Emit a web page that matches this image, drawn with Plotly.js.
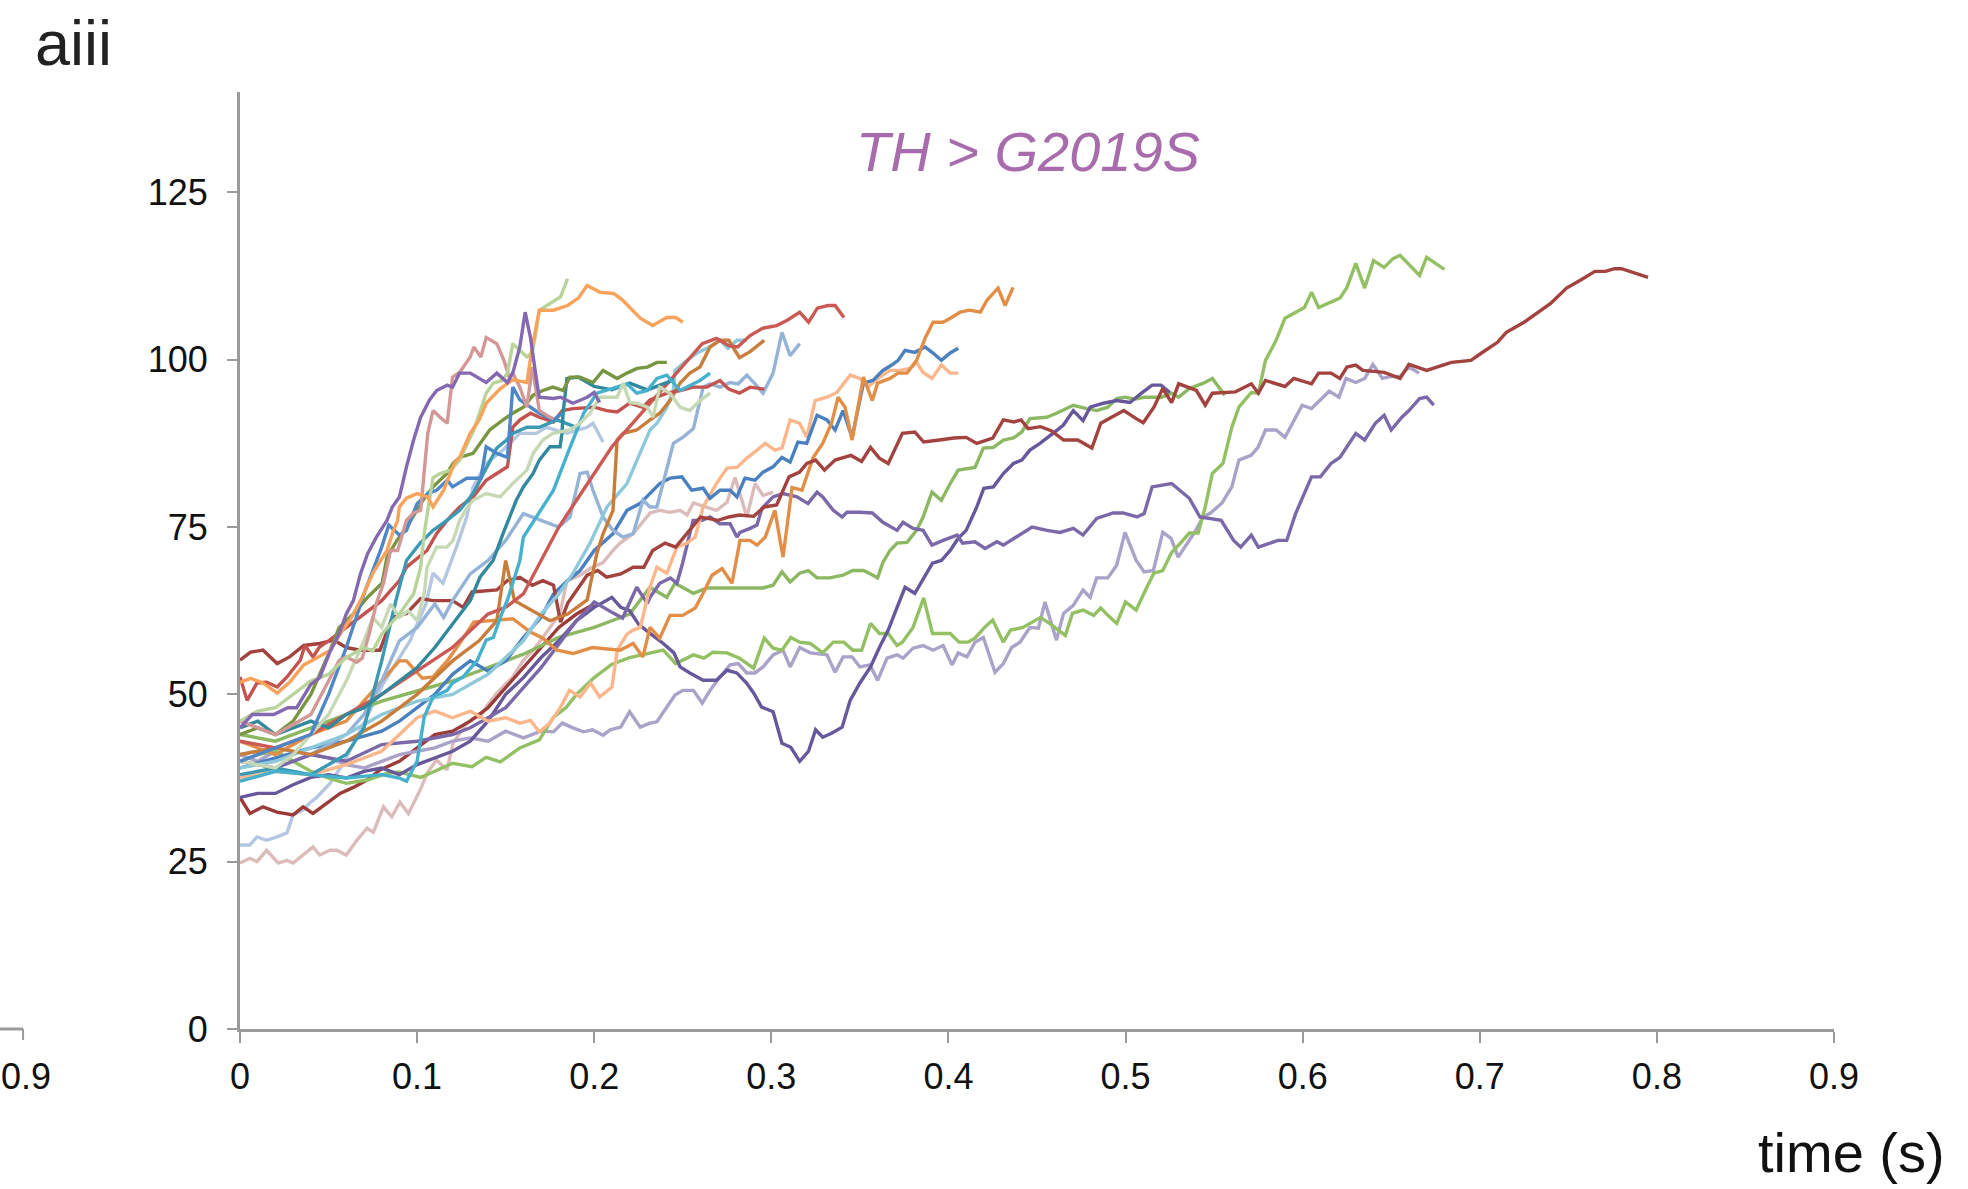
<!DOCTYPE html>
<html>
<head>
<meta charset="utf-8">
<script src="https://cdn.plot.ly/plotly-3.0.1.min.js"></script>
<style>
html,body{margin:0;padding:0;background:#ffffff;}
#chart{width:1968px;height:1189px;}
</style>
</head>
<body>
<div id="chart"></div>
<script>
// ---- data: [time (s), value] pairs ----
const darkRedLong = [[0,55.1],[0.006,56.3],[0.013,56.6],[0.021,54.6],[0.028,55.6],[0.036,57.3],[0.045,57.6],[0.053,58.1],[0.06,57],[0.068,56.6],[0.079,56.6],[0.086,61.5],[0.094,62.1],[0.102,64.3],[0.109,64],[0.12,64],[0.126,63],[0.131,65.3],[0.145,65.6],[0.151,67],[0.158,67.5],[0.165,66.3],[0.171,67],[0.177,66.3],[0.181,60.8],[0.185,63.6],[0.196,67.8],[0.202,68.5],[0.207,67.5],[0.215,68],[0.222,69],[0.228,69],[0.233,71.5],[0.24,72.6],[0.246,72],[0.252,74],[0.26,76.5],[0.27,76],[0.276,76.5],[0.282,76.8],[0.29,76.6],[0.296,78],[0.303,78.3],[0.31,82.5],[0.316,83.2],[0.32,84.5],[0.325,85],[0.33,83.5],[0.336,85],[0.345,85.7],[0.351,84.8],[0.356,86.9],[0.361,85.3],[0.366,84.5],[0.374,89],[0.381,89.2],[0.386,87.7],[0.395,88],[0.403,88.3],[0.41,88.4],[0.416,87.5],[0.425,88.3],[0.431,91],[0.437,90.7],[0.441,91],[0.445,89.7],[0.452,90],[0.458,89.4],[0.465,88],[0.473,88],[0.481,86.8],[0.486,90.5],[0.491,91.2],[0.499,92.4],[0.506,91.2],[0.51,90.6],[0.516,92.9],[0.521,95.7],[0.526,93.6],[0.53,96.4],[0.54,95.4],[0.545,93.2],[0.549,95],[0.562,95.2],[0.571,96.4],[0.575,95],[0.579,96.9],[0.59,96],[0.595,97.2],[0.605,96.4],[0.609,98],[0.616,98],[0.621,97.2],[0.625,98.9],[0.63,99.2],[0.634,98.4],[0.646,98.1],[0.655,97.2],[0.66,99.3],[0.67,98.4],[0.684,99.6],[0.695,99.9],[0.701,101],[0.71,102.6],[0.715,104.1],[0.725,105.6],[0.74,108.4],[0.749,110.7],[0.757,111.9],[0.765,113.2],[0.771,113.2],[0.776,113.6],[0.78,113.6],[0.795,112.3]];
const greenLong = [[0,40],[0.01,41],[0.02,41.5],[0.03,40],[0.04,38.5],[0.05,37.5],[0.06,36.7],[0.072,37.2],[0.083,38.2],[0.09,38.4],[0.102,37.6],[0.109,38.4],[0.12,39.7],[0.131,39.2],[0.139,40.6],[0.147,39.9],[0.158,42],[0.169,43.2],[0.177,46.6],[0.184,48],[0.19,50],[0.2,52.5],[0.21,54.5],[0.22,55.5],[0.2315,56.2],[0.239,56.6],[0.246,54.6],[0.25,55.1],[0.256,55.9],[0.262,55.4],[0.267,56.3],[0.275,56.2],[0.282,55.4],[0.29,53.9],[0.296,58.4],[0.301,56.9],[0.306,56.6],[0.311,58.5],[0.316,57.8],[0.322,57.6],[0.329,56.2],[0.335,57.8],[0.341,57.8],[0.346,56.6],[0.351,56.6],[0.356,60.6],[0.361,59.1],[0.366,59.1],[0.371,57.3],[0.374,57.8],[0.38,60],[0.386,64.4],[0.391,59.1],[0.401,59.1],[0.406,57.8],[0.411,57.8],[0.415,58.4],[0.42,59.9],[0.425,61.1],[0.431,57.8],[0.435,59.6],[0.442,60],[0.452,61.5],[0.457,60.6],[0.466,58.8],[0.47,62.1],[0.476,62.6],[0.482,61.8],[0.486,62.9],[0.49,61.8],[0.495,60.6],[0.5,63.8],[0.506,62.6],[0.512,66],[0.516,68.1],[0.521,68.5],[0.526,71.2],[0.531,72.6],[0.536,74.1],[0.541,74.1],[0.545,78],[0.549,83],[0.555,84.5],[0.56,89.9],[0.564,92.9],[0.571,95.1],[0.575,95],[0.579,99.9],[0.585,102.9],[0.59,106.2],[0.601,107.8],[0.605,110.1],[0.609,107.8],[0.621,109.2],[0.625,110.8],[0.63,114.4],[0.635,110.7],[0.64,114.8],[0.646,113.8],[0.651,115.1],[0.655,115.6],[0.666,112.6],[0.67,115.3],[0.68,113.5]];
const greenMid = [[0,44],[0.02,43],[0.04,45],[0.06,47],[0.08,49],[0.1,50.5],[0.12,52],[0.14,54],[0.16,56],[0.18,58.5],[0.2,60],[0.21,61],[0.22,62],[0.2315,66],[0.241,64.5],[0.2456,66.6],[0.256,65.1],[0.2637,65.9],[0.2953,65.9],[0.301,66.3],[0.306,68.3],[0.3106,66.8],[0.316,68.1],[0.3208,68.5],[0.3258,67.4],[0.333,67.4],[0.3405,67.8],[0.346,68.5],[0.352,68.5],[0.3574,67.8],[0.36,67.4],[0.363,69.7],[0.367,71.5],[0.371,72.6],[0.3766,72.7],[0.382,74.5],[0.3857,76.5],[0.3907,80.2],[0.396,79],[0.401,81.5],[0.4055,83.5],[0.415,83.9],[0.4197,86.8],[0.4254,86.9],[0.431,88],[0.4367,88.3],[0.4414,89.2],[0.446,91.2],[0.4555,91.4],[0.461,92],[0.4705,93.2],[0.478,92.7],[0.4837,92.4],[0.49,92.9],[0.495,94.2],[0.4997,94.4],[0.505,94.1],[0.511,94.4],[0.5204,94.4],[0.526,95],[0.53,94.4],[0.536,95.7],[0.544,96.5],[0.549,97.2],[0.556,94.7]];
const purpleDark = [[0,34.6],[0.01,35.2],[0.02,35.2],[0.03,36.5],[0.04,37.6],[0.05,38],[0.06,37.5],[0.07,38.5],[0.08,39],[0.09,38],[0.1,39.5],[0.11,40.5],[0.12,41.5],[0.13,43],[0.14,46],[0.15,50],[0.16,52.5],[0.17,55.5],[0.18,58],[0.19,61],[0.2,63],[0.21,64.5],[0.215,63],[0.22,62.5],[0.225,60.5],[0.2315,59.1],[0.239,57.6],[0.245,56.2],[0.2485,54.1],[0.254,53.2],[0.2615,52.1],[0.269,52.1],[0.275,53.6],[0.2805,53.2],[0.286,51.7],[0.29,50.2],[0.2945,48.1],[0.301,47.4],[0.306,42.7],[0.311,42.1],[0.316,40],[0.321,41.5],[0.325,44.7],[0.329,43.6],[0.334,44.2],[0.34,45.1],[0.3445,49.1],[0.35,51.7],[0.356,54.1],[0.361,57],[0.366,59.6],[0.371,63],[0.3755,66],[0.381,65.1],[0.386,67.4],[0.391,69.6],[0.396,70],[0.401,71.5],[0.4055,73.3],[0.41,74.5],[0.416,78],[0.42,80.8],[0.4254,81],[0.431,83],[0.4367,84.5],[0.4414,85],[0.446,86.5],[0.4517,87.5],[0.459,89],[0.4648,90.2],[0.4705,92.4],[0.476,90.9],[0.48,92.9],[0.4875,93.5],[0.495,93.9],[0.5025,93.6],[0.509,95],[0.515,96.2],[0.52,96.2],[0.525,95.1]];
const lavender = [[0,41],[0.01,40],[0.02,41.5],[0.03,40],[0.04,41],[0.05,40.5],[0.06,39.5],[0.07,39],[0.08,40],[0.09,41],[0.1,41.5],[0.11,42],[0.12,43],[0.13,43.5],[0.14,43],[0.15,44.5],[0.16,43.5],[0.17,44.5],[0.177,44.4],[0.182,45.7],[0.188,45],[0.194,44.4],[0.199,44.7],[0.205,43.9],[0.209,44.7],[0.215,45.1],[0.22,47.4],[0.226,45.1],[0.2315,45.7],[0.2354,45.9],[0.241,48.1],[0.2456,49.9],[0.25,50.6],[0.256,50.6],[0.261,48.7],[0.2654,50.6],[0.271,52.6],[0.2767,54.4],[0.2813,54.6],[0.2862,53.2],[0.2908,53.2],[0.2953,54.1],[0.301,55.9],[0.3066,56.6],[0.3106,54.1],[0.316,57],[0.3219,56.2],[0.3314,55.9],[0.336,53.3],[0.3405,55.6],[0.3456,55.6],[0.35,54.1],[0.3557,54.4],[0.36,52.1],[0.3653,55.4],[0.371,55.9],[0.3744,55.4],[0.38,56.9],[0.3857,57.3],[0.3913,56.6],[0.397,57.3],[0.402,54.4],[0.4055,56.2],[0.4105,55.6],[0.415,57.8],[0.4197,58.5],[0.4263,53.3],[0.431,54.6],[0.4357,57],[0.4404,57.8],[0.446,60],[0.4508,59.9],[0.4545,63.8],[0.461,58.1],[0.465,62.1],[0.4705,63.3],[0.476,65.6],[0.48,64.5],[0.4837,67.4],[0.49,67.4],[0.495,69.3],[0.4997,74.2],[0.506,70],[0.5105,68.3],[0.5157,68.5],[0.521,74.2],[0.5257,73.3],[0.5297,70.5],[0.5387,74.1],[0.5438,76.5],[0.548,77.1],[0.5545,78.6],[0.56,81],[0.564,85],[0.5709,85.7],[0.5748,86.9],[0.579,89.5],[0.585,89.5],[0.59,88.4],[0.5957,91.2],[0.5997,93.2],[0.605,92.7],[0.6104,94.2],[0.615,95.3],[0.6205,94.4],[0.6245,97.2],[0.63,96.6],[0.635,97.2],[0.6397,99.3],[0.645,97.2],[0.65,97.5],[0.655,97.5],[0.66,98.9],[0.6657,98]];
const purpleMid = [[0,40],[0.02,39],[0.04,41],[0.06,40],[0.08,42.5],[0.1,43],[0.12,44],[0.13,45],[0.14,46.5],[0.15,48],[0.16,51],[0.17,54],[0.18,57.5],[0.19,61],[0.196,62.6],[0.2,63.8],[0.211,62.1],[0.216,61.4],[0.224,66],[0.23,63.6],[0.2315,64.5],[0.237,66.6],[0.243,67.4],[0.2467,66.6],[0.25,69.7],[0.2558,76],[0.261,76],[0.2654,76.5],[0.271,75.5],[0.2767,75.5],[0.2806,73.5],[0.2823,74.2],[0.288,74.8],[0.2919,75.3],[0.2947,77.8],[0.301,79.5],[0.3066,80],[0.3145,79.5],[0.3207,78.5],[0.3258,80.2],[0.329,79.5],[0.335,77.5],[0.34,76.5],[0.3427,77.2],[0.35,77.2],[0.357,77.1],[0.363,75.7],[0.371,74.5],[0.3744,75.7],[0.38,74.8],[0.3857,74.5],[0.3907,72.3],[0.397,73],[0.4049,73.8],[0.408,72.6],[0.415,72.8],[0.4207,71.8],[0.4274,72.8],[0.431,72.3],[0.4404,73.8],[0.4472,75],[0.4557,74.5],[0.463,74.2],[0.4705,74.8],[0.476,73.8],[0.4837,76.3],[0.493,77.1],[0.4986,77.1],[0.5065,76.5],[0.5105,77],[0.515,81],[0.526,81.5],[0.536,79.3],[0.542,76.5],[0.554,76],[0.561,73],[0.565,72],[0.571,73.8],[0.575,72],[0.586,73],[0.591,73],[0.596,77],[0.605,82.5],[0.61,82.5],[0.616,84.5],[0.621,85.4],[0.63,89],[0.635,88],[0.641,90.5],[0.646,91.7],[0.65,89.5],[0.656,91.4],[0.66,92.4],[0.666,94.2],[0.67,94.4],[0.674,93.2]];
const orangeLate = [[0,43],[0.02,41],[0.04,44],[0.06,46],[0.08,52],[0.09,55],[0.094,55],[0.1,53.2],[0.103,52.4],[0.109,52.6],[0.117,55],[0.124,57.6],[0.132,60.8],[0.154,61.3],[0.164,59.3],[0.171,58.4],[0.179,56.6],[0.188,56.1],[0.199,57],[0.2146,56.6],[0.222,57.6],[0.2275,55.6],[0.2315,60],[0.237,58.4],[0.2428,61.8],[0.25,61.8],[0.257,62.9],[0.2615,65.1],[0.2665,67.8],[0.2722,68.8],[0.2778,66.6],[0.2823,73],[0.288,73],[0.2919,72.3],[0.2966,73.5],[0.302,77.5],[0.3066,70.5],[0.3117,80.9],[0.3173,80.5],[0.3236,85.4],[0.329,87.5],[0.334,90.5],[0.3377,94.4],[0.3416,92.9],[0.3456,88],[0.352,97.4],[0.357,93.9],[0.36,96.5],[0.367,97.2],[0.3716,98],[0.3766,98],[0.382,99.9],[0.3868,103.2],[0.3913,105.6],[0.397,105.6],[0.401,106.2],[0.4066,107.1],[0.412,107.4],[0.418,107.1],[0.4218,108.9],[0.428,110.7],[0.432,108.1],[0.4365,110.8]];
const blueLate = [[0,39],[0.02,40.5],[0.04,42],[0.06,43],[0.08,44.5],[0.09,46],[0.1,48],[0.11,50],[0.12,53],[0.13,55],[0.14,53.5],[0.15,55],[0.16,58.5],[0.17,61.5],[0.177,65],[0.185,67],[0.192,68.5],[0.196,70],[0.2,71.5],[0.2106,74],[0.2185,77.5],[0.2258,78.5],[0.2315,80],[0.237,81.5],[0.2428,82.3],[0.2495,82.5],[0.255,80.5],[0.2615,80.8],[0.2654,79.3],[0.271,80.5],[0.2767,80.5],[0.2806,79.5],[0.2851,82.3],[0.2908,82],[0.2953,83.2],[0.301,84],[0.306,85.4],[0.3106,84.7],[0.315,87.7],[0.32,87.5],[0.3258,91.7],[0.3314,91],[0.336,89.5],[0.3405,92.4],[0.3456,88.4],[0.352,96.5],[0.3574,96.9],[0.363,98.4],[0.368,99.2],[0.3716,99.9],[0.3755,101.4],[0.381,101.1],[0.3868,101.9],[0.3913,101],[0.396,99.9],[0.401,101],[0.4055,101.7]];
const peach = [[0,37.5],[0.02,38.5],[0.04,38],[0.06,39.5],[0.08,41.5],[0.09,44],[0.1,46.5],[0.11,47.5],[0.12,46.5],[0.13,47.5],[0.14,46],[0.15,46.5],[0.158,45.7],[0.164,46.1],[0.169,44.4],[0.175,45.7],[0.181,48.1],[0.186,50.6],[0.192,49.6],[0.198,51.7],[0.203,49.6],[0.21,51.1],[0.213,56.6],[0.2185,59],[0.222,59.6],[0.226,60],[0.2315,66],[0.2354,69],[0.241,68.1],[0.2467,72],[0.2524,72.6],[0.257,73.5],[0.2615,78],[0.269,81.5],[0.275,83.8],[0.2806,83.9],[0.2862,85.3],[0.2919,86.5],[0.2966,87.5],[0.302,86.5],[0.306,86.8],[0.3106,91],[0.316,90.5],[0.32,88.4],[0.3247,93.9],[0.3314,94.4],[0.337,95.1],[0.3445,97.7],[0.35,97.2],[0.3546,95.9],[0.36,97.2],[0.367,98.4],[0.3727,98.4],[0.3783,98.7],[0.382,99.6],[0.3857,98.1],[0.3907,97.2],[0.396,99.2],[0.401,98],[0.4055,98]];
const blueGray = [[0,41],[0.02,42],[0.04,41],[0.06,44],[0.07,47],[0.08,52],[0.09,58],[0.1,60],[0.11,63.5],[0.115,61.5],[0.12,64],[0.13,68],[0.14,70],[0.15,73],[0.155,75],[0.16,77],[0.17,76],[0.18,75],[0.1863,76.5],[0.192,83],[0.196,83.2],[0.1993,80.5],[0.205,76.5],[0.2106,74.5],[0.2163,73.5],[0.222,74],[0.2275,79],[0.2315,78],[0.2354,78],[0.241,83.5],[0.2447,87.5],[0.25,88.4],[0.256,89.7],[0.2615,95.9],[0.2654,96.4],[0.271,95.9],[0.2767,96.6],[0.2813,96.4],[0.2862,97.7],[0.2908,96.4],[0.2953,95],[0.301,98],[0.306,104.1],[0.3106,100.6],[0.316,102.4]];
const lightCyan = [[0,39],[0.02,40],[0.04,42],[0.06,44],[0.08,47],[0.1,49],[0.12,50],[0.14,53],[0.15,55.5],[0.16,58],[0.17,62],[0.18,65],[0.188,68.1],[0.1976,72.6],[0.2072,78],[0.2185,81.5],[0.2258,86],[0.2315,89.5],[0.2354,90.5],[0.241,92.9],[0.2447,95.4],[0.2456,98.4],[0.2524,99.9],[0.258,101],[0.2637,101.7],[0.271,102.9],[0.2755,101.7],[0.2806,102.9],[0.2862,102.9]];
const cyan = [[0,37],[0.02,38.5],[0.04,38],[0.06,37.5],[0.08,38],[0.09,37.5],[0.094,37],[0.1,40],[0.104,46.6],[0.109,49.6],[0.117,50.6],[0.12,51.7],[0.126,52.6],[0.134,55.1],[0.139,58.1],[0.143,58.5],[0.147,61.5],[0.151,64.1],[0.154,66.6],[0.158,70],[0.16,73.5],[0.177,80.5],[0.185,86],[0.194,92],[0.2015,95],[0.213,95.9],[0.2185,96.4],[0.224,95],[0.23,95.4],[0.2354,97.2],[0.241,97.7],[0.2485,95.4],[0.2524,95.9],[0.2597,96.9],[0.2654,98]];
const olive = [[0,44],[0.01,45],[0.02,44],[0.03,46],[0.04,50],[0.05,56],[0.056,60],[0.064,62],[0.072,64.5],[0.0802,66.6],[0.083,70.5],[0.0886,73],[0.093,74.5],[0.0977,76.5],[0.1033,79],[0.109,81],[0.1169,83],[0.1203,84.5],[0.124,85.4],[0.1316,86],[0.1372,88],[0.141,89.5],[0.1485,91],[0.154,92],[0.16,92.9],[0.1655,94.7],[0.171,95.4],[0.1767,95.9],[0.1824,95.4],[0.1863,97.4],[0.192,97.4],[0.1993,96.6],[0.205,98.4],[0.2129,97.2],[0.2185,98],[0.2242,98.7],[0.23,98.9],[0.2354,99.6],[0.241,99.6]];
const tealDark = [[0,45],[0.01,46],[0.02,44],[0.03,45],[0.04,46],[0.05,45],[0.06,47],[0.07,48],[0.08,50],[0.09,52],[0.1,54],[0.11,57],[0.12,60.5],[0.13,64],[0.1355,67.5],[0.1429,70],[0.1485,74],[0.1525,76.5],[0.156,79],[0.16,81],[0.1655,83],[0.169,85],[0.175,87],[0.1807,87],[0.1818,89],[0.1824,92],[0.1846,97.2],[0.1908,97.4],[0.2,96],[0.21,95.5],[0.22,96.5],[0.23,95.5],[0.24,96.5],[0.245,97]];
const tealBlue = [[0,38],[0.02,39],[0.04,38],[0.06,41],[0.07,45],[0.08,55],[0.088,64],[0.094,70],[0.1017,72.6],[0.109,74.5],[0.1169,76],[0.124,77.5],[0.1316,80],[0.1392,84],[0.145,86.8],[0.1505,88],[0.154,89],[0.162,89.9],[0.169,89.9],[0.179,91],[0.19,89.9]];
const redA = [[0,52.6],[0.004,49.1],[0.0096,51.7],[0.015,51.8],[0.021,51.1],[0.0265,52.6],[0.034,55.1],[0.0367,57.3],[0.0412,55.6],[0.045,57.1],[0.05,58],[0.06,60],[0.07,62],[0.08,64],[0.09,67],[0.094,69],[0.1056,71.5],[0.111,74],[0.1169,76],[0.124,78],[0.1316,79.5],[0.139,82],[0.145,83],[0.151,84],[0.154,89.9],[0.158,91],[0.164,92],[0.169,91.4],[0.177,90.7],[0.182,92.4],[0.188,92.7],[0.196,92.9],[0.2,92.9],[0.207,92.4],[0.213,92.2],[0.22,93.5],[0.2275,92.9],[0.2315,94],[0.241,95],[0.2485,95.4],[0.256,95.9],[0.2635,95.9],[0.271,96.9],[0.276,95.6],[0.282,95],[0.288,95.9],[0.296,95.6]];
const redB = [[0,43],[0.02,42],[0.04,44],[0.06,47],[0.08,50],[0.1,53.5],[0.12,57],[0.14,62],[0.15,63],[0.16,65],[0.17,70],[0.18,75],[0.19,79],[0.2,83],[0.21,87],[0.22,90],[0.23,93],[0.24,96],[0.25,99],[0.261,102.4],[0.269,103.2],[0.276,102.1],[0.281,101.9],[0.288,103.6],[0.295,104.7],[0.303,105.1],[0.309,105.9],[0.316,107.1],[0.321,105.6],[0.326,107.7],[0.332,108.1],[0.336,108.1],[0.341,106.3]];
const orangeEarly = [[0,51.8],[0.006,52.4],[0.013,51.7],[0.021,50.2],[0.028,51.8],[0.036,54.4],[0.043,55.4],[0.051,56.6],[0.056,58.8],[0.063,61.5],[0.069,64.5],[0.075,68.1],[0.083,71.5],[0.086,74],[0.089,76],[0.09,78],[0.094,79.3],[0.1,80],[0.106,79.5],[0.109,78],[0.115,80.5],[0.119,83],[0.121,84.5],[0.124,85.4],[0.13,89],[0.135,91],[0.139,93.5],[0.147,95.7],[0.154,97],[0.162,96.6],[0.165,101.9],[0.169,107.4],[0.177,107.4],[0.185,108.1],[0.191,109.2],[0.196,111.1],[0.203,110.1],[0.211,109.9],[0.216,108.9],[0.226,106.2],[0.233,105.1],[0.241,106.3],[0.246,106.3],[0.25,105.6]];
const paleGreen = [[0,46],[0.01,47.5],[0.02,48],[0.03,50],[0.04,52],[0.05,53],[0.06,55.5],[0.07,57],[0.075,56.5],[0.08,59],[0.09,62],[0.098,65],[0.102,69],[0.104,74],[0.107,79],[0.109,82.4],[0.113,83],[0.119,83.5],[0.124,85],[0.132,89.5],[0.139,95],[0.143,96.5],[0.148,96.9],[0.151,98],[0.154,102.4],[0.159,101.1],[0.162,100.4],[0.165,101.1],[0.167,103.9],[0.169,107.4],[0.175,108.4],[0.181,109.4],[0.185,112.1]];
const sage = [[0,40],[0.02,39],[0.03,41],[0.04,44],[0.05,47],[0.06,52],[0.065,55],[0.07,58],[0.075,61.5],[0.08,60],[0.085,63.5],[0.09,61.5],[0.095,62.5],[0.1,61],[0.104,65],[0.1056,69],[0.111,72],[0.1169,72],[0.1203,73],[0.124,76],[0.128,77.8],[0.1316,79],[0.139,80],[0.1468,79.5],[0.154,81.5],[0.162,83.5],[0.1655,86],[0.171,88],[0.1767,89],[0.1863,89.5],[0.192,90.5],[0.1976,92],[0.2033,94.4],[0.2129,94.4],[0.2163,96.5],[0.2202,93.6],[0.224,93.5],[0.23,92.9],[0.2332,91.4],[0.237,95.9],[0.2428,95],[0.2485,92.9],[0.254,92.4],[0.2597,93.9],[0.2654,95]];
const purpleFast = [[0,45],[0.007,47],[0.013,47],[0.019,47],[0.027,48],[0.032,48],[0.04,51.5],[0.045,52.5],[0.051,56.5],[0.056,59],[0.06,62],[0.064,64],[0.068,68],[0.072,71],[0.077,73.5],[0.083,76],[0.086,78],[0.09,79.5],[0.094,84],[0.098,88],[0.102,91.4],[0.107,94],[0.111,95.4],[0.117,96.2],[0.12,95.9],[0.124,98],[0.13,98],[0.139,96.6],[0.145,98],[0.151,96.6],[0.154,98],[0.158,101.9],[0.161,107.1],[0.164,103.3],[0.168,95.9],[0.169,94.4],[0.177,94.2],[0.181,94.4],[0.188,93.5],[0.196,94.4],[0.2,95.1],[0.203,93.6]];
const rose = [[0,46],[0.01,45],[0.02,44],[0.03,45.5],[0.04,47],[0.05,52],[0.056,55.1],[0.06,55.6],[0.066,54.8],[0.069,55.4],[0.073,59.1],[0.077,63.6],[0.081,66.6],[0.083,69],[0.085,71.5],[0.089,71.5],[0.092,74],[0.094,76],[0.098,77.1],[0.102,77.5],[0.106,89],[0.109,92.4],[0.113,91.4],[0.117,90.5],[0.12,97.4],[0.124,98.1],[0.13,100.4],[0.132,101.9],[0.136,100.4],[0.139,103.3],[0.145,102.4],[0.149,99.9],[0.152,97.4],[0.154,98],[0.158,95.9],[0.162,92.9],[0.165,98.9],[0.167,95.9],[0.169,92.4],[0.175,91.4],[0.177,91.2]];
const blueFast = [[0,40],[0.02,42],[0.04,44],[0.05,50],[0.06,57],[0.07,65],[0.08,72],[0.084,75.3],[0.09,73.8],[0.094,74.5],[0.1,78.5],[0.106,80],[0.111,80.5],[0.117,82],[0.12,81],[0.128,82.3],[0.136,82.3],[0.139,87],[0.145,86],[0.151,85.4],[0.154,95.9],[0.158,94],[0.164,92.9],[0.169,92],[0.177,91],[0.182,92]];
const lightSteel = [[0,27.5],[0.0056,27.5],[0.0096,28.7],[0.015,28.2],[0.0209,28.7],[0.0265,29.3],[0.03,32],[0.0356,32.7],[0.0395,33.8],[0.0433,34.6],[0.0508,36.7],[0.0584,39.7],[0.066,43.6],[0.0734,47.6],[0.081,51.7],[0.0903,55.6],[0.096,58],[0.1,60.5],[0.105,63.5],[0.109,68.1],[0.1146,66.6],[0.1222,72],[0.128,76.5],[0.1316,81],[0.139,84.5],[0.1485,86.5],[0.158,89],[0.1674,89],[0.173,89.9],[0.1846,89],[0.196,89.9],[0.1993,90.5],[0.205,87.7]];
const mistyRose = [[0,24.8],[0.0056,25.5],[0.0096,25],[0.015,26.7],[0.0216,24.8],[0.0265,25.2],[0.03,24.8],[0.0356,26],[0.0412,27.2],[0.045,26],[0.0508,26.7],[0.0546,26.7],[0.06,26],[0.066,28.2],[0.0717,30],[0.0753,29.4],[0.081,33.2],[0.0857,31.7],[0.0903,33.9],[0.0951,32.2],[0.1017,35.7],[0.106,38.4],[0.111,40.2],[0.1169,38.7],[0.1203,42.7],[0.128,45.7],[0.1316,46.4],[0.1355,46.6],[0.139,48.1],[0.145,50.2],[0.151,51.7],[0.154,52.6],[0.16,55.1],[0.1655,56.6],[0.171,58.5],[0.1767,60.6],[0.1807,62.1],[0.1846,67],[0.192,67.8],[0.1976,68.8],[0.205,69.7],[0.2106,71.5],[0.2146,72.6],[0.222,74],[0.2315,77.1],[0.237,77.5],[0.2428,77.2],[0.2485,77.5],[0.2524,76.8],[0.256,78.6],[0.2637,78],[0.269,77.5],[0.275,78.7],[0.2795,82.4],[0.2862,76.5],[0.2908,81.5],[0.2953,79.7],[0.301,80.2]];
const brownOrange = [[0,41],[0.02,42],[0.04,41],[0.06,43],[0.08,46],[0.1,50],[0.12,55],[0.135,58],[0.145,61],[0.15,70],[0.155,64],[0.165,62.5],[0.175,61],[0.185,62],[0.196,64.1],[0.2015,71.1],[0.205,74],[0.2106,77.5],[0.2129,88],[0.2163,89],[0.224,89.5],[0.2315,91],[0.237,92],[0.2428,93.9],[0.2485,96.5],[0.254,98],[0.2597,98.9],[0.2654,101.9],[0.271,102.9],[0.276,102.9],[0.282,100.3],[0.288,101.2],[0.296,102.9]];
const darkRedLow = [[0,34.6],[0.0056,32.2],[0.013,33.2],[0.0209,32.4],[0.03,32],[0.0356,33.2],[0.0412,32.2],[0.049,33.8],[0.0565,35.2],[0.064,36.1],[0.0717,37.2],[0.079,38.7],[0.09,40],[0.1,42],[0.11,44],[0.12,44.5],[0.13,46],[0.14,48],[0.15,51],[0.16,54],[0.17,57],[0.18,60],[0.19,62],[0.2,63.5]];

const seriesList = [
  {data: mistyRose,   color: '#dcbcbb'},
  {data: lightSteel,  color: '#b3c7e2'},
  {data: darkRedLow,  color: '#9b3c39'},
  {data: lavender,    color: '#aaa2c8'},
  {data: greenLong,   color: '#93c062'},
  {data: greenMid,    color: '#8cb862'},
  {data: purpleDark,  color: '#67589b'},
  {data: purpleMid,   color: '#7a68a8'},
  {data: peach,       color: '#fbb78b'},
  {data: blueLate,    color: '#4a80bf'},
  {data: orangeLate,  color: '#e28e46'},
  {data: darkRedLong, color: '#a2433f'},
  {data: blueGray,    color: '#95b3d7'},
  {data: lightCyan,   color: '#8dc9da'},
  {data: brownOrange, color: '#c97d3b'},
  {data: redB,        color: '#cc5a54'},
  {data: redA,        color: '#c4524e'},
  {data: tealBlue,    color: '#3b9ab3'},
  {data: tealDark,    color: '#32899e'},
  {data: cyan,        color: '#45b1cd'},
  {data: sage,        color: '#c6d9b4'},
  {data: olive,       color: '#78963f'},
  {data: blueFast,    color: '#4d87c7'},
  {data: rose,        color: '#d39896'},
  {data: paleGreen,   color: '#b8d49a'},
  {data: orangeEarly, color: '#f9a25a'},
  {data: purpleFast,  color: '#8469b1'}
];

const traces = seriesList.map(s => ({
  type: 'scatter',
  mode: 'lines',
  x: s.data.map(p => p[0]),
  y: s.data.map(p => p[1]),
  line: {color: s.color, width: 3.4},
  hoverinfo: 'skip',
  showlegend: false
}));

const axisGray = '#9a9a9a';
const layout = {
  width: 1968,
  height: 1189,
  margin: {l: 240, r: 134, t: 92, b: 160, pad: 0},
  paper_bgcolor: '#ffffff',
  plot_bgcolor: '#ffffff',
  font: {family: 'Liberation Sans, Arial, sans-serif', color: '#111111', size: 36},
  showlegend: false,
  xaxis: {
    range: [0, 0.9], tick0: 0, dtick: 0.1,
    showline: true, linecolor: axisGray, linewidth: 3,
    ticks: 'outside', ticklen: 11, tickwidth: 2, tickcolor: axisGray,
    showgrid: false, zeroline: false,
    tickfont: {size: 36, color: '#111111'},
    ticklabelstandoff: 3
  },
  yaxis: {
    range: [0, 140], tick0: 0, dtick: 25,
    showline: true, linecolor: axisGray, linewidth: 3,
    ticks: 'outside', ticklen: 10, tickwidth: 2, tickcolor: axisGray,
    showgrid: false, zeroline: false,
    tickfont: {size: 36, color: '#111111'},
    ticklabelstandoff: 12
  },
  shapes: [
    {type: 'line', xref: 'paper', yref: 'paper', x0: -0.1506, x1: -0.1361, y0: 0, y1: 0,
     line: {color: axisGray, width: 3}},
    {type: 'line', xref: 'paper', yref: 'paper', x0: -0.1361, x1: -0.1361, y0: 0, y1: -0.0117,
     line: {color: axisGray, width: 2}}
  ],
  annotations: [
    {text: 'aiii', xref: 'paper', yref: 'paper', x: -0.1298, y: 1.0523,
     xanchor: 'left', yanchor: 'middle', showarrow: false,
     font: {size: 63, color: '#222222', family: 'Liberation Sans, Arial, sans-serif'}},
    {text: 'TH > G2019S', xref: 'paper', yref: 'paper', x: 0.4944, y: 0.936,
     xanchor: 'center', yanchor: 'middle', showarrow: false,
     font: {size: 56, color: '#a86cad', style: 'italic', family: 'Liberation Sans, Arial, sans-serif'}},
    {text: 'time (s)', xref: 'paper', yref: 'paper', x: 1.0709, y: -0.1317,
     xanchor: 'right', yanchor: 'middle', showarrow: false,
     font: {size: 56, color: '#111111', family: 'Liberation Sans, Arial, sans-serif'}},
    {text: '0.9', xref: 'paper', yref: 'paper', x: -0.1506, y: -0.0502,
     xanchor: 'left', yanchor: 'middle', showarrow: false, borderpad: 0,
     font: {size: 36, color: '#111111', family: 'Liberation Sans, Arial, sans-serif'}}
  ]
};

Plotly.newPlot('chart', traces, layout, {displayModeBar: false, responsive: false});
</script>
</body>
</html>
